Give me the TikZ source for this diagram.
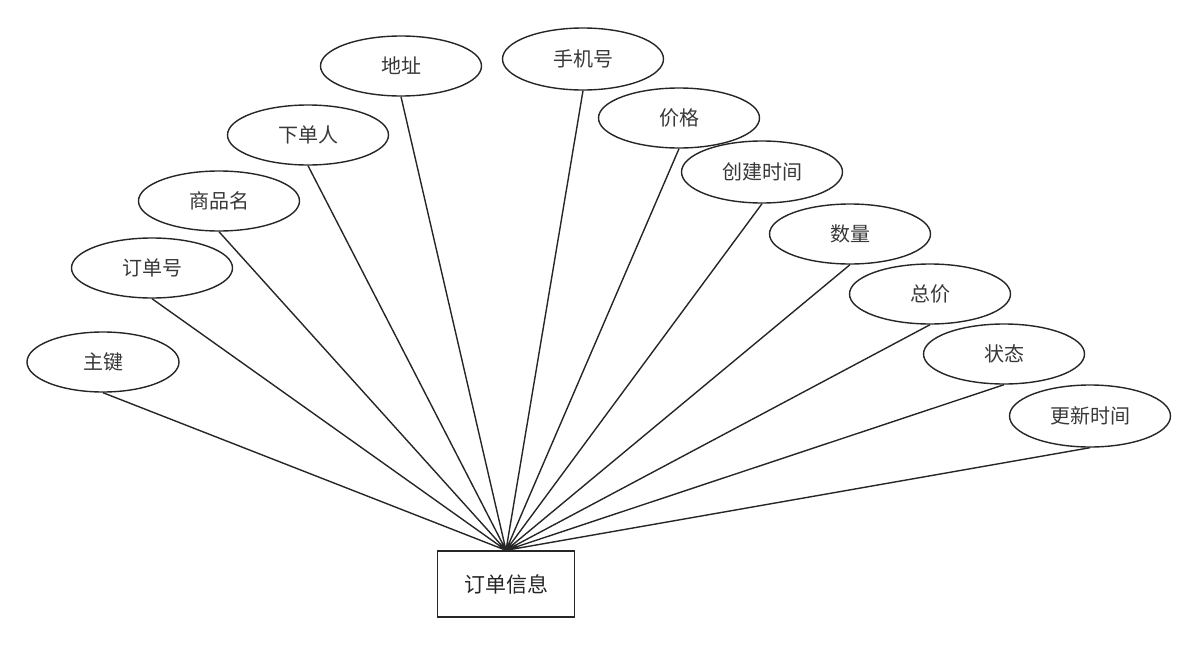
\documentclass[tikz,border=0pt]{standalone}
\usepackage{fontspec}
\newfontfamily\cjk{Noto Sans CJK SC}
\usetikzlibrary{shapes.geometric}

\begin{document}
\begin{tikzpicture}[x=1pt,y=-1pt,line width=1.4pt,
  attr/.style={draw=black!85,ellipse,minimum width=161pt,minimum height=60pt,inner sep=0pt,
    font=\cjk\fontsize{20}{23}\selectfont,text=black!78},
  entity/.style={draw=black!85,rectangle,minimum width=137pt,minimum height=66pt,inner sep=0pt,
    font=\cjk\fontsize{21}{24}\selectfont,text=black!85}]
\useasboundingbox (0,0) rectangle (1198,645);
% entity box at the bottom, attributes fanned out above it
\node[entity] (order) at (506,584) {订单信息};
\node[attr,minimum width=152pt] (pk) at (103,362) {主键};
\node[attr] (orderno) at (152,268) {订单号};
\node[attr] (goods) at (219,201) {商品名};
\node[attr] (buyer) at (308,135) {下单人};
\node[attr] (addr) at (401,66) {地址};
\node[attr,minimum height=62pt] (phone) at (583,59) {手机号};
\node[attr] (price) at (679,118) {价格};
\node[attr,minimum height=62pt] (created) at (762,172) {创建时间};
\node[attr] (qty) at (850,234) {数量};
\node[attr] (total) at (930,294) {总价};
\node[attr] (status) at (1004,354) {状态};
\node[attr,minimum height=62pt] (updated) at (1090,416) {更新时间};
% every attribute meets the box at one point
\draw[black!85] (pk.south)--(order.north) (orderno.south)--(order.north)
  (goods.south)--(order.north) (buyer.south)--(order.north)
  (addr.south)--(order.north) (phone.south)--(order.north)
  (price.south)--(order.north) (created.south)--(order.north)
  (qty.south)--(order.north) (total.south)--(order.north)
  (status.south)--(order.north) (updated.south)--(order.north);
\end{tikzpicture}
\end{document}
